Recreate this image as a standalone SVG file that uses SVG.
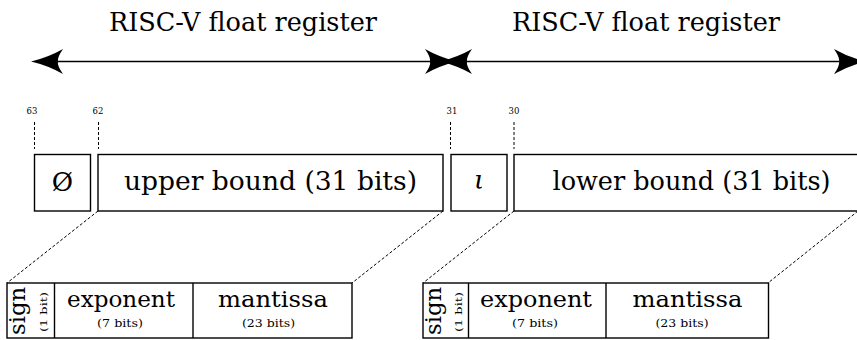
<svg xmlns="http://www.w3.org/2000/svg" xmlns:xlink="http://www.w3.org/1999/xlink" width="857" height="340" viewBox="0 0 857 340">
  <style>
    text { fill: #000; font-family: DejaVu Serif, serif; }
    .box { fill: #fff; stroke: #000; stroke-width: 1.4; }
    .rule { stroke: #000; stroke-width: 1.4; }
    .dash { stroke: #000; stroke-width: 1; stroke-dasharray: 3 2; fill: none; }
    .shaft { stroke: #000; stroke-width: 1.7; fill: none; }
    .title { font-size: 26px; text-anchor: middle; }
    .field { font-size: 26px; text-anchor: middle; }
    .sub { font-size: 23px; text-anchor: middle; }
    .tiny { font-size: 11px; text-anchor: middle; }
    .bit { font-size: 8.5px; text-anchor: middle; }
    .vsign { font-size: 22px; text-anchor: middle; }
    .vbit { font-size: 10px; text-anchor: middle; }
  </style>
  <defs>
    <!-- stealth-style arrowhead, tip at origin, pointing +x -->
    <path id="head" d="M0,0 Q-17,-4 -32,-12.5 Q-26,-4 -27,0 Q-26,4 -32,12.5 Q-17,4 0,0 Z" fill="#000"/>
  </defs>

  <!-- titles -->
  <text class="title" x="243" y="31" textLength="268" lengthAdjust="spacingAndGlyphs">RISC-V float register</text>
  <text class="title" x="646" y="31" textLength="268" lengthAdjust="spacingAndGlyphs">RISC-V float register</text>

  <!-- connectors: register span arrows, bit markers, expansion guides -->
  <g id="connectors">
    <line class="shaft" x1="58" y1="61.5" x2="430" y2="61.5"/>
    <use xlink:href="#head" transform="translate(31,61.5) rotate(180)"/>
    <use xlink:href="#head" transform="translate(457,61.5)"/>

    <line class="shaft" x1="467" y1="61.5" x2="839" y2="61.5"/>
    <use xlink:href="#head" transform="translate(440,61.5) rotate(180)"/>
    <use xlink:href="#head" transform="translate(866,61.5)"/>

    <line class="dash" x1="34.5" y1="122" x2="34.5" y2="149"/>
    <line class="dash" x1="98.5" y1="122" x2="98.5" y2="149"/>
    <line class="dash" x1="450.5" y1="122" x2="450.5" y2="149"/>
    <line class="dash" x1="514" y1="122" x2="514" y2="149"/>

    <line class="dash" x1="98" y1="211" x2="7" y2="283"/>
    <line class="dash" x1="443" y1="211" x2="352" y2="283"/>
    <line class="dash" x1="514" y1="211" x2="423" y2="283"/>
    <line class="dash" x1="858" y1="211" x2="768" y2="283"/>
  </g>

  <!-- bit indices -->
  <g id="bit-labels">
    <text class="bit" x="32" y="114">63</text>
    <text class="bit" x="98" y="114">62</text>
    <text class="bit" x="452" y="114">31</text>
    <text class="bit" x="514" y="114">30</text>
  </g>

  <!-- upper 32-bit half -->
  <g id="empty-flag">
    <rect class="box" x="34.5" y="154.5" width="56" height="56.5"/>
    <text class="field" x="62.5" y="191">Ø</text>
  </g>
  <g id="upper-bound">
    <rect class="box" x="98" y="154.5" width="345" height="56.5"/>
    <text class="field" x="270.5" y="190" textLength="293" lengthAdjust="spacingAndGlyphs">upper bound (31 bits)</text>
  </g>

  <!-- lower 32-bit half -->
  <g id="iota-flag">
    <rect class="box" x="451" y="154.5" width="56" height="56.5"/>
    <text class="field" x="479" y="189" font-style="italic">ι</text>
  </g>
  <g id="lower-bound">
    <rect class="box" x="514" y="154.5" width="360" height="56.5"/>
    <text class="field" x="691.5" y="190" textLength="278" lengthAdjust="spacingAndGlyphs">lower bound (31 bits)</text>
  </g>

  <!-- binary32 layout of the upper bound -->
  <g id="upper-float">
    <rect class="box" x="7" y="283" width="345" height="55"/>
    <line class="rule" x1="54.5" y1="283" x2="54.5" y2="338"/>
    <line class="rule" x1="193" y1="283" x2="193" y2="338"/>
    <text class="vsign" transform="translate(25,311) rotate(-90)" textLength="48" lengthAdjust="spacingAndGlyphs">sign</text>
    <text class="vbit" transform="translate(47,312) rotate(-90)" textLength="40" lengthAdjust="spacingAndGlyphs">(1 bit)</text>
    <text class="sub" x="121" y="307" textLength="108" lengthAdjust="spacingAndGlyphs">exponent</text>
    <text class="tiny" x="120" y="327" textLength="46" lengthAdjust="spacingAndGlyphs">(7 bits)</text>
    <text class="sub" x="273" y="307" textLength="110" lengthAdjust="spacingAndGlyphs">mantissa</text>
    <text class="tiny" x="268.5" y="327" textLength="53" lengthAdjust="spacingAndGlyphs">(23 bits)</text>
  </g>

  <!-- binary32 layout of the lower bound -->
  <g id="lower-float">
    <rect class="box" x="423" y="283" width="345.5" height="55"/>
    <line class="rule" x1="468.5" y1="283" x2="468.5" y2="338"/>
    <line class="rule" x1="606" y1="283" x2="606" y2="338"/>
    <text class="vsign" transform="translate(441,311) rotate(-90)" textLength="48" lengthAdjust="spacingAndGlyphs">sign</text>
    <text class="vbit" transform="translate(462,312) rotate(-90)" textLength="40" lengthAdjust="spacingAndGlyphs">(1 bit)</text>
    <text class="sub" x="536" y="307" textLength="112" lengthAdjust="spacingAndGlyphs">exponent</text>
    <text class="tiny" x="535" y="327" textLength="46" lengthAdjust="spacingAndGlyphs">(7 bits)</text>
    <text class="sub" x="687.5" y="307" textLength="110" lengthAdjust="spacingAndGlyphs">mantissa</text>
    <text class="tiny" x="682" y="327" textLength="53" lengthAdjust="spacingAndGlyphs">(23 bits)</text>
  </g>
</svg>
